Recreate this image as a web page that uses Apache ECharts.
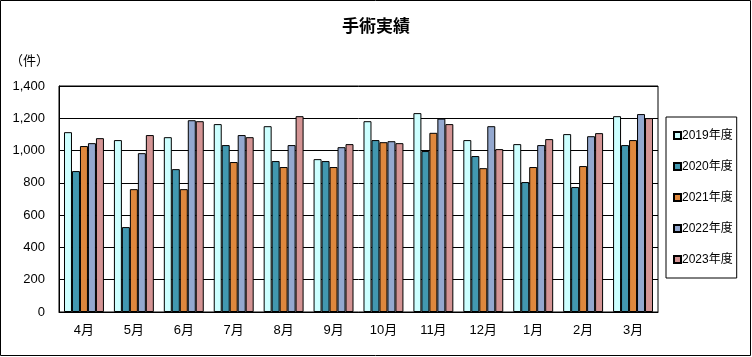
<!DOCTYPE html>
<html><head><meta charset="utf-8">
<script src="https://cdn.jsdelivr.net/npm/echarts@6/dist/echarts.min.js"></script>
<style>html,body{margin:0;padding:0;background:#fff}#c{width:752px;height:357px}</style>
</head><body><div id="c"></div>
<script>
const categories = ['4月','5月','6月','7月','8月','9月','10月','11月','12月','1月','2月','3月'];
const seriesNames = ['2019年度','2020年度','2021年度','2022年度','2023年度'];
const fy2019 = [1114,1065,1083,1164,1151,947,1182,1232,1065,1040,1102,1213];
const fy2020 = [873,526,885,1034,935,935,1065,997,966,805,774,1034];
const fy2021 = [1028,761,761,929,898,898,1052,1110,891,898,904,1065];
const fy2022 = [1046,984,1188,1096,1034,1021,1058,1198,1151,1034,1089,1226];
const fy2023 = [1077,1096,1182,1083,1213,1040,1046,1164,1009,1071,1108,1201];
const yTicks = [0,200,400,600,800,1000,1200,1400];
const colors = ['#CCFFFF','#4298B0','#DF883D','#94A8CF','#D49494'];
const allData = [fy2019,fy2020,fy2021,fy2022,fy2023];
const font = '"Liberation Sans","Noto Sans CJK JP",sans-serif';
const chart = echarts.init(document.getElementById('c'), null, {renderer:'canvas'});
chart.setOption({
  animation:false,
  color: colors,
  title:{text:'手術実績', left:'center', top:12, textStyle:{fontFamily:'"Noto Sans CJK JP",sans-serif', fontSize:17, fontWeight:'bold', color:'#000'}},
  graphic:[
    {type:'rect', shape:{x:0.5,y:0.5,width:750,height:355}, style:{fill:null, stroke:'#000', lineWidth:1}, silent:true},
    {type:'text', left:10, top:54, style:{text:'（件）', font:'13px "Noto Sans CJK JP"', fill:'#000'}}
  ],
  legend:{
    orient:'vertical', left:666, top:117, width:74,
    data: seriesNames,
    itemWidth:7, itemHeight:7, itemGap:16,
    icon:'rect',
    padding:[11,4,11,7],
    borderColor:'#000', borderWidth:1,
    textStyle:{fontFamily:font, fontSize:12, color:'#000', padding:[0,0,0,-4], lineHeight:15}
  },
  grid:{left:59, right:94, top:86, bottom:45, show:true, borderColor:'#000', borderWidth:1},
  xAxis:{
    type:'category', data:categories,
    axisLine:{lineStyle:{color:'#000', width:1}},
    axisTick:{inside:true, length:5, lineStyle:{color:'#000'}},
    axisLabel:{fontFamily:font, fontSize:13, color:'#000', margin:12}
  },
  yAxis:{
    type:'value', min:0, max:1400, interval:200,
    axisLine:{show:true, lineStyle:{color:'#000'}},
    axisTick:{show:false},
    axisLabel:{fontFamily:font, fontSize:13, color:'#000', margin:14,
      formatter:v=>yTicks.includes(v)?v.toLocaleString('en-US'):''},
    splitLine:{lineStyle:{color:'#000', width:1}}
  },
  series: seriesNames.map((n,i)=>({
    name:n, type:'bar', data: allData[i],
    barGap:'0%', barCategoryGap:'20%',
    itemStyle:{color:colors[i], borderColor:'#000', borderWidth:1},
    legendIcon:'rect'
  }))
});
</script></body></html>
